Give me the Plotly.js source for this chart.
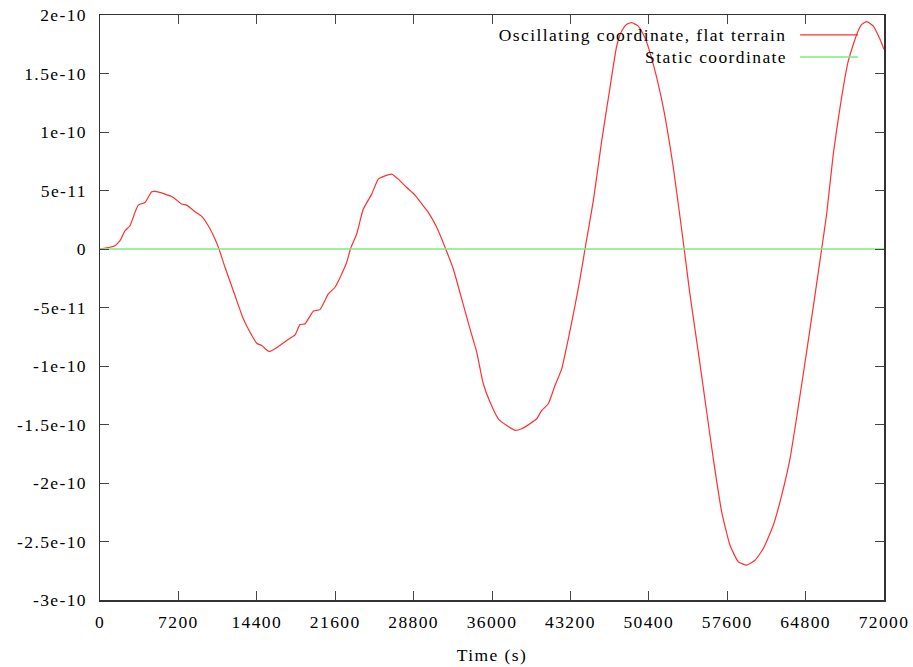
<!DOCTYPE html>
<html>
<head>
<meta charset="utf-8">
<script src="https://cdn.plot.ly/plotly-3.0.1.min.js"></script>
<style>
html,body{margin:0;padding:0;background:#fff;}
#chart{width:913px;height:667px;}
#chart svg text{letter-spacing:1.4px;}
</style>
</head>
<body>
<div id="chart"></div>
<script>
// Time (s)
var timeOsc = [0, 918, 1378, 1837, 2296, 2755, 3214, 3517, 4133, 4748, 5051, 5969, 6732, 7503, 7962, 8724, 9340, 9946, 10561, 10929,
  11480, 12398, 13160, 13776, 14391, 14850, 15520, 16375, 17146, 17908, 18367, 18827, 19589, 20204, 20966, 21582, 22197, 22656, 23023,
  23574, 24181, 24952, 25558, 26173, 26789, 27395, 28166, 28929, 29691, 30150, 30921, 31748, 32446, 33218, 33980, 34595,
  35201, 35816, 36579, 37350, 38112, 38728, 39490, 40105, 40564, 41171, 41786, 42401, 43007, 43622, 44082, 44541,
  45304, 46075, 46837, 47453, 47912, 48371, 48830, 49436, 50051, 50813, 51732, 52650, 53650,
  54153, 54946, 55717, 56323, 57094, 57857, 58619, 59390, 60153, 60915, 61833, 62605, 63367, 64102, 64837, 65571,
  66275, 66735, 67341, 67959, 68722, 69493, 69952, 70412, 71018, 71633, 72000];
// Oscillating coordinate, flat terrain
var valOsc = [0, 0.15e-11, 0.28e-11, 0.71e-11, 1.56e-11, 1.99e-11, 3.13e-11, 3.75e-11, 3.98e-11, 4.89e-11, 4.92e-11, 4.69e-11, 4.41e-11, 3.84e-11, 3.75e-11, 3.18e-11, 2.79e-11, 1.99e-11, 0.85e-11, 0,
  -1.56e-11, -3.98e-11, -5.97e-11, -7.11e-11, -8.05e-11, -8.25e-11, -8.76e-11, -8.34e-11, -7.82e-11, -7.34e-11, -6.46e-11, -6.40e-11, -5.32e-11, -5.18e-11, -3.84e-11, -3.27e-11, -2.13e-11, -1.13e-11, 0.06e-11,
  1.28e-11, 3.41e-11, 4.69e-11, 5.97e-11, 6.25e-11, 6.40e-11, 5.97e-11, 5.26e-11, 4.61e-11, 3.69e-11, 3.13e-11, 1.85e-11, 0, -1.71e-11, -4.27e-11, -6.83e-11, -8.81e-11,
  -11.52e-11, -13.08e-11, -14.51e-11, -15.08e-11, -15.50e-11, -15.36e-11, -14.93e-11, -14.51e-11, -13.80e-11, -13.23e-11, -11.66e-11, -10.24e-11, -7.68e-11, -4.84e-11, -2.56e-11, 0,
  4.12e-11, 9.24e-11, 13.80e-11, 17.35e-11, 18.63e-11, 19.20e-11, 19.34e-11, 19.05e-11, 18.06e-11, 15.78e-11, 12.09e-11, 6.97e-11, 0,
  -3.69e-11, -8.81e-11, -13.93e-11, -17.92e-11, -22.47e-11, -25.32e-11, -26.73e-11, -27.02e-11, -26.60e-11, -25.60e-11, -23.61e-11, -21.05e-11, -17.92e-11, -13.65e-11, -9.13e-11, -4.52e-11,
  0, 2.99e-11, 8.11e-11, 12.09e-11, 16.07e-11, 18.34e-11, 19.20e-11, 19.43e-11, 19.05e-11, 17.92e-11, 17.06e-11];
// Static coordinate
var timeStatic = [0, 72000];
var valStatic = [0, 0];

var xTickVals = [0, 7200, 14400, 21600, 28800, 36000, 43200, 50400, 57600, 64800, 72000];
var xTickText = ["0", "7200", "14400", "21600", "28800", "36000", "43200", "50400", "57600", "64800", "72000"];
var yTickVals = [2e-10, 1.5e-10, 1e-10, 5e-11, 0, -5e-11, -1e-10, -1.5e-10, -2e-10, -2.5e-10, -3e-10];
var yTickText = ["2e-10", "1.5e-10", "1e-10", "5e-11", "0", "-5e-11", "-1e-10", "-1.5e-10", "-2e-10", "-2.5e-10", "-3e-10"];

var seriesNames = ["Oscillating coordinate, flat terrain", "Static coordinate"];
var seriesColors = ["#ff3030", "#78ee78"];

var fontFam = "Liberation Serif, Times New Roman, serif";
var fontSize = 17.5;

var traces = [
  {x: timeOsc, y: valOsc, type: "scatter", mode: "lines", name: seriesNames[0],
   line: {color: seriesColors[0], width: 1.2, shape: "spline", smoothing: 0.5}, showlegend: false, hoverinfo: "skip"},
  {x: timeStatic, y: valStatic, type: "scatter", mode: "lines", name: seriesNames[1],
   line: {color: seriesColors[1], width: 1.5}, showlegend: false, hoverinfo: "skip"}
];

var axisCommon = {
  showgrid: false, zeroline: false, showline: true, linecolor: "#333", linewidth: 1.5,
  mirror: "ticks", ticks: "inside", ticklen: 9, tickwidth: 1, tickcolor: "#444",
  tickfont: {family: fontFam, size: fontSize, color: "#000"}
};

var layout = {
  width: 913, height: 667,
  margin: {l: 100, r: 29, t: 15, b: 67},
  paper_bgcolor: "#fff", plot_bgcolor: "#fff",
  font: {family: fontFam, size: fontSize, color: "#000"},
  xaxis: Object.assign({}, axisCommon, {
    range: [0, 72000], tickmode: "array", tickvals: xTickVals, ticktext: xTickText,
    ticklabelstandoff: 5,
    title: {text: "Time (s)", font: {family: fontFam, size: fontSize, color: "#000"}, standoff: 18}
  }),
  yaxis: Object.assign({}, axisCommon, {
    range: [-3e-10, 2e-10], tickmode: "array", tickvals: yTickVals, ticktext: yTickText,
    ticklabelstandoff: 8
  }),
  annotations: [
    {xref: "paper", yref: "paper", x: 0.846, y: 0.966, xanchor: "right", yanchor: "middle",
     text: seriesNames[0], showarrow: false, font: {family: fontFam, size: fontSize, color: "#000"}},
    {xref: "paper", yref: "paper", x: 0.864, y: 0.928, xanchor: "right", yanchor: "middle",
     text: seriesNames[1], showarrow: false, font: {family: fontFam, size: fontSize, color: "#000"}}
  ],
  shapes: [
    {type: "line", xref: "paper", yref: "paper", x0: 0.893, x1: 0.967, y0: 0.966, y1: 0.966,
     line: {color: seriesColors[0], width: 1.2}},
    {type: "line", xref: "paper", yref: "paper", x0: 0.893, x1: 0.967, y0: 0.928, y1: 0.928,
     line: {color: seriesColors[1], width: 1.5}}
  ]
};

Plotly.newPlot("chart", traces, layout, {displayModeBar: false, staticPlot: true});
</script>
</body>
</html>
